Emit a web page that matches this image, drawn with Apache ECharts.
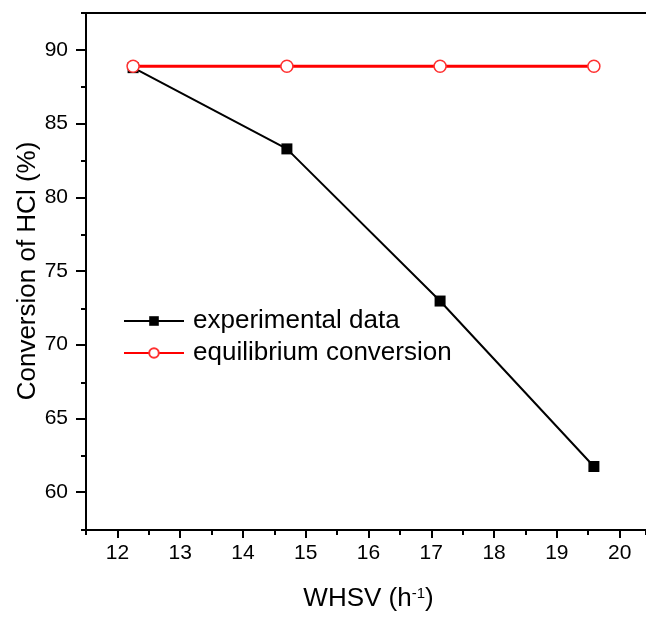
<!DOCTYPE html>
<html>
<head>
<meta charset="utf-8">
<script src="https://cdn.jsdelivr.net/npm/echarts@6/dist/echarts.min.js"></script>
<style>
  html, body { margin: 0; padding: 0; background: #fff; }
  #main { width: 646px; height: 617px; }
</style>
</head>
<body>
<div id="main"></div>
<script>
// data
var whsv = [12.25, 14.7, 17.14, 19.59];
var experimental = [88.8, 83.3, 73.0, 61.8];
var equilibrium = [88.9, 88.9, 88.9, 88.9];
var seriesNames = ['experimental data', 'equilibrium conversion'];

// axis ranges / tick labels (the picture is cropped just before the right frame)
var xRange = [11.5, 20.42];
var xTicks = [12, 20];      // first / last labelled tick, step 1
var yRange = [57.5, 92.5];
var yTicks = [60, 90];      // first / last labelled tick, step 5

var font = 'Liberation Sans';

var dom = document.getElementById('main');
var myChart = echarts.init(dom, null, { renderer: 'canvas' });

// plot box in pixels
var L = 86, T = 13, R = 646, B = 530;
var pxX = (R - L) / (xRange[1] - xRange[0]);
var pxY = (B - T) / (yRange[1] - yRange[0]);
// second grid only carries the major ticks + labels
var L2 = L + (xTicks[0] - xRange[0]) * pxX;
var R2 = R - (xRange[1] - xTicks[1]) * pxX;
var T2 = T + (yRange[1] - yTicks[1]) * pxY;
var B2 = B - (yTicks[0] - yRange[0]) * pxY;

var axisBlack = { color: '#000', width: 2 };

var data1 = whsv.map(function (x, i) { return [x, experimental[i]]; });
var data2 = whsv.map(function (x, i) { return [x, equilibrium[i]]; });

var option = {
    backgroundColor: '#fff',
    animation: false,
    grid: [
        { left: L, top: T, width: R - L, height: B - T },
        { left: L2, top: T2, width: R2 - L2, height: B2 - T2 }
    ],
    legend: {
        left: 123,
        top: 308,
        padding: 0,
        orient: 'vertical',
        itemWidth: 60,
        itemHeight: 12,
        itemGap: 6,
        textStyle: { fontFamily: font, fontSize: 26, color: '#000', padding: [0, 0, 0, 4] },
        data: seriesNames
    },
    xAxis: [
        { // minor ticks, axis line
            type: 'value', gridIndex: 0,
            min: xRange[0], max: xRange[1], interval: 1,
            axisLine: { lineStyle: axisBlack },
            axisTick: { inside: false, length: 5, lineStyle: axisBlack },
            axisLabel: { show: false },
            splitLine: { show: false }
        },
        { // top frame
            type: 'value', gridIndex: 0, position: 'top',
            min: xRange[0], max: xRange[1],
            axisLine: { lineStyle: axisBlack },
            axisTick: { show: false },
            axisLabel: { show: false },
            splitLine: { show: false }
        },
        { // major ticks + labels
            type: 'value', gridIndex: 1, position: 'bottom',
            offset: B - B2,
            min: xTicks[0], max: xTicks[1], interval: 1,
            axisLine: { show: false },
            axisTick: { inside: false, length: 9, lineStyle: axisBlack },
            axisLabel: { margin: 14, fontFamily: font, fontSize: 21, color: '#000' },
            splitLine: { show: false },
            name: '{n|WHSV (h}{s|-1}{n|)}',
            nameLocation: 'middle',
            nameGap: 57,
            nameTextStyle: {
                rich: {
                    n: { fontFamily: font, fontSize: 26, color: '#000' },
                    s: { fontFamily: font, fontSize: 15, color: '#000', verticalAlign: 'top', padding: [0, 0, 10, 0] }
                }
            }
        }
    ],
    yAxis: [
        { // minor ticks, axis line
            type: 'value', gridIndex: 0,
            min: yRange[0], max: yRange[1], interval: 5,
            axisLine: { lineStyle: axisBlack },
            axisTick: { inside: false, length: 5, lineStyle: axisBlack },
            axisLabel: { show: false },
            splitLine: { show: false }
        },
        { // major ticks + labels
            type: 'value', gridIndex: 1, position: 'left',
            offset: L2 - L,
            min: yTicks[0], max: yTicks[1], interval: 5,
            axisLine: { show: false },
            axisTick: { inside: false, length: 10, lineStyle: axisBlack },
            axisLabel: { margin: 18, fontFamily: font, fontSize: 21, color: '#000' },
            splitLine: { show: false },
            name: 'Conversion of HCl (%)',
            nameLocation: 'middle',
            nameGap: 45,
            nameMoveOverlap: false,
            nameTextStyle: { fontFamily: font, fontSize: 26, color: '#000' }
        }
    ],
    series: [
        {
            name: seriesNames[0],
            type: 'line',
            xAxisIndex: 0, yAxisIndex: 0,
            symbol: 'rect',
            symbolSize: 11,
            itemStyle: { color: '#000' },
            lineStyle: { color: '#000', width: 2 },
            z: 2,
            data: data1
        },
        {
            name: seriesNames[1],
            type: 'line',
            xAxisIndex: 0, yAxisIndex: 0,
            symbol: 'circle',
            symbolSize: 12,
            itemStyle: { color: '#fff', borderColor: '#ff3030', borderWidth: 1.5 },
            lineStyle: { color: '#ff0000', width: 3 },
            z: 3,
            data: data2
        }
    ]
};

option && myChart.setOption(option);
window.addEventListener('resize', myChart.resize);
</script>
</body>
</html>
